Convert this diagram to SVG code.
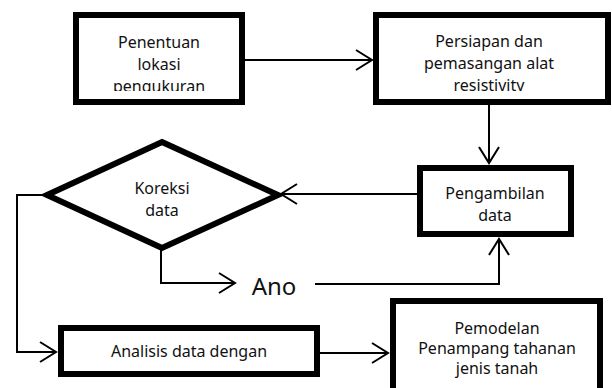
<svg xmlns="http://www.w3.org/2000/svg" width="612" height="388" viewBox="0 0 612 388">
<style>
.box{fill:#fff;stroke:#000;stroke-width:6}
.dia{fill:#fff;stroke:#000;stroke-width:6;stroke-linejoin:miter}
.t{font-family:"Noto Sans","Open Sans",sans-serif;font-size:16px;fill:#111;text-anchor:middle}
.c{fill:none;stroke:#000;stroke-width:2}
</style>
<defs>
<marker id="ah" markerUnits="userSpaceOnUse" markerWidth="20" markerHeight="22" viewBox="0 0 20 22" refX="18" refY="11" orient="auto">
<path d="M2,1 L18,11 L2,21" fill="none" stroke="#000" stroke-width="2"/>
</marker>
<clipPath id="cl1"><rect x="79" y="18" width="160" height="73"/></clipPath>
<clipPath id="cl2"><rect x="379" y="18" width="226" height="73"/></clipPath>
</defs>
<rect width="612" height="388" fill="#fff"/>
<g id="connectors">
<line class="c" x1="245" y1="60" x2="372" y2="60" marker-end="url(#ah)"/>
<line class="c" x1="489" y1="105" x2="489" y2="163" marker-end="url(#ah)"/>
<line class="c" x1="417" y1="194" x2="281" y2="194" marker-end="url(#ah)"/>
<polyline class="c" points="47,195 17,195 17,352 56,352" marker-end="url(#ah)"/>
<polyline class="c" points="161,248 161,283 235,283" marker-end="url(#ah)"/>
<polyline class="c" points="315,284 499,284 499,239" marker-end="url(#ah)"/>
<line class="c" x1="320" y1="353" x2="388" y2="353" marker-end="url(#ah)"/>
<text x="274" y="295" font-family="Noto Sans, sans-serif" font-size="24" fill="#111" text-anchor="middle">Ano</text>
</g>
<g id="n1">
<rect class="box" x="76" y="15" width="166" height="87"/>
<g clip-path="url(#cl1)">
<text class="t" x="159" y="48">Penentuan</text>
<text class="t" x="159" y="70">lokasi</text>
<text class="t" x="159" y="92">pengukuran</text>
</g>
</g>
<g id="n2">
<rect class="box" x="376" y="15" width="232" height="87"/>
<g clip-path="url(#cl2)">
<text class="t" x="489" y="47">Persiapan dan</text>
<text class="t" x="489" y="69">pemasangan alat</text>
<text class="t" x="489" y="91">resistivity</text>
</g>
</g>
<g id="n3">
<rect class="box" x="420" y="168" width="151" height="66"/>
<text class="t" x="495" y="199">Pengambilan</text>
<text class="t" x="495" y="221">data</text>
</g>
<g id="n4">
<polygon class="dia" points="162,142 278,195 162,248 47,195"/>
<text class="t" x="162" y="194">Koreksi</text>
<text class="t" x="162" y="216">data</text>
</g>
<g id="n5">
<rect class="box" x="61" y="328" width="256" height="46"/>
<text class="t" x="189" y="357">Analisis data dengan</text>
</g>
<g id="n6">
<rect class="box" x="393" y="301" width="207" height="100"/>
<text class="t" x="497" y="334">Pemodelan</text>
<text class="t" x="497" y="354">Penampang tahanan</text>
<text class="t" x="497" y="374">jenis tanah</text>
</g>
</svg>
